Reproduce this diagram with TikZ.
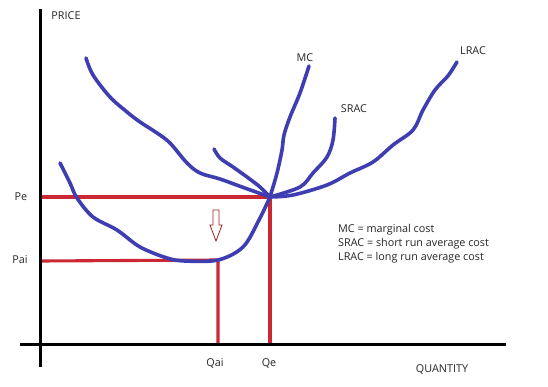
\documentclass[tikz,border=0pt]{standalone}
\usepackage{fontspec}
\setmainfont{Open Sans}
\definecolor{curveblue}{RGB}{62,62,178}
\definecolor{linered}{RGB}{204,40,52}
\definecolor{arrowred}{RGB}{160,30,30}
\tikzset{
  curve/.style={draw=curveblue, line width=3.6pt, line cap=round, line join=round},
  redline/.style={draw=linered, line width=3.1pt},
  axis/.style={draw=black, line width=3pt},
  lbl/.style={font=\fontsize{10.8}{12}\selectfont, inner sep=0pt, text=black!85},
}
\begin{document}
\begin{tikzpicture}[x=1pt,y=-1pt]
\useasboundingbox[fill=white] (0,0) rectangle (548,387);
% key points
\coordinate (E) at (270,197);
\coordinate (A) at (218,260);
% red guide lines
\draw[redline] (40,197) -- (E) -- (270,344);
\draw[redline] (40,261) -- (A) -- (218,344);
% axes
\draw[axis] (40,9) -- (40,367);
\draw[axis] (20,344) -- (506,344);
% curves
\draw[curve] plot[smooth, tension=0.55] coordinates {(86,58) (93,75) (110,97) (127,112) (140,122) (157,133) (170,143) (187,163) (200,173) (220,179) (242,187) (E)};
\draw[curve] plot[smooth, tension=0.55] coordinates {(214,149) (220,158) (233,167) (247,177) (260,187) (E)};
\draw[curve] plot[smooth, tension=0.55] coordinates {(60,163) (70,183) (77,198) (93,217) (117,230) (140,247) (167,258) (185,261) (A) (243,247) (259,220) (E)};
\draw[curve] plot[smooth, tension=0.55] coordinates {(E) (277,173) (282,150) (284,135) (290,117) (300,93) (309,66)};
\draw[curve] plot[smooth, tension=0.55] coordinates {(E) (300,187) (313,173) (327,157) (333,140) (335,118)};
\draw[curve] plot[smooth, tension=0.55] coordinates {(E) (293,195) (327,185) (350,173) (373,162) (393,145) (413,130) (423,110) (435,90) (447,77) (452,70) (457,62)};
% hollow arrow
\draw[arrowred, line width=0.8pt, line join=miter] (213,210) -- (219,210) -- (219,225) -- (222,225) -- (216,241) -- (210,225) -- (213,225) -- cycle;
% labels
\node[lbl] (price) at (66,16) {PRICE};
\node[lbl] (mc) at (305,58) {MC};
\node[lbl] (srac) at (354,109) {SRAC};
\node[lbl] (lrac) at (473,51) {LRAC};
\node[lbl] (pe) at (21,197) {Pe};
\node[lbl] (pai) at (20,260) {Pai};
\node[lbl] (qai) at (215,363) {Qai};
\node[lbl] (qe) at (269,363) {Qe};
\node[lbl] (qty) at (442,369) {QUANTITY};
\node[lbl, anchor=west] (l1) at (338,230) {MC = marginal cost};
\node[lbl, anchor=west] (l2) at (338,244) {SRAC = short run average cost};
\node[lbl, anchor=west] (l3) at (338,258) {LRAC = long run average cost};
\end{tikzpicture}
\end{document}
